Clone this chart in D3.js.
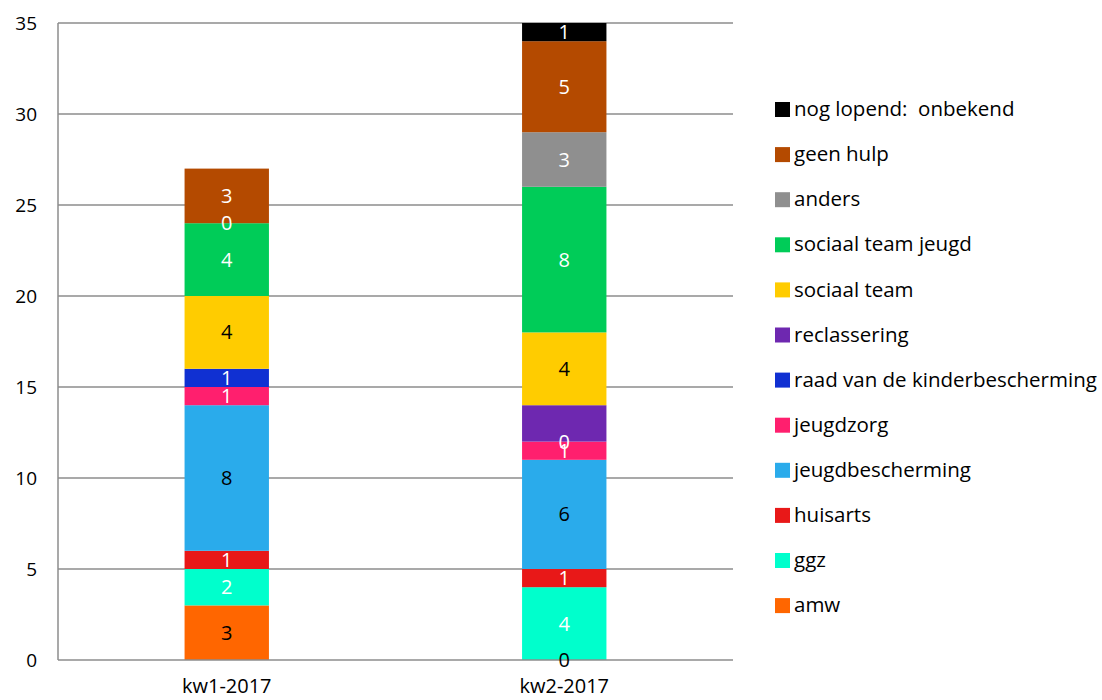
<!DOCTYPE html>
<html>
<head>
<meta charset="utf-8">
<script src="https://cdn.jsdelivr.net/npm/d3@7"></script>
<style>
  body { margin: 0; background: #fff; }
  text { font-family: "Open Sans", "Noto Sans", sans-serif; fill: #000; }
</style>
</head>
<body>
<div class="chart"></div>
<script>
// categories + series (bottom to top of the stack)
const categories = ["kw1-2017", "kw2-2017"];
const seriesNames = ["amw", "ggz", "huisarts", "jeugdbescherming", "jeugdzorg",
  "raad van de kinderbescherming", "reclassering", "sociaal team",
  "sociaal team jeugd", "anders", "geen hulp", "nog lopend:  onbekend"];
const seriesColors = ["#ff6600", "#00ffcc", "#e81818", "#2aabeb", "#ff1f6e",
  "#1030d2", "#6e28b0", "#ffcc00", "#00cc58", "#8f8f8f", "#b44a00", "#000000"];
// values per series: [kw1, kw2]  (null = no value)
const amw = [3, 0];
const ggz = [2, 4];
const huisarts = [1, 1];
const jeugdbescherming = [8, 6];
const jeugdzorg = [1, 1];
const raad = [1, 0];
const reclassering = [null, 2];
const sociaalTeam = [4, 4];
const sociaalTeamJeugd = [4, 8];
const anders = [0, 3];
const geenHulp = [3, 5];
const nogLopend = [null, 1];
const values = [amw, ggz, huisarts, jeugdbescherming, jeugdzorg, raad,
  reclassering, sociaalTeam, sociaalTeamJeugd, anders, geenHulp, nogLopend];
// label text colour per series, and labels missing in the original
const darkLabels = ["amw", "jeugdbescherming", "sociaal team"];
const hiddenLabels = [["reclassering", "kw2-2017"]];
const yTicks = [0, 5, 10, 15, 20, 25, 30, 35];

var margin = { top: 23, right: 369, bottom: 40, left: 58 };
var width = 1102 - margin.left - margin.right,
  height = 700 - margin.top - margin.bottom;

const svg = d3.select(".chart").append("svg")
  .attr("width", 1102)
  .attr("height", 700)
  .append("g")
  .attr("transform", "translate(" + margin.left + "," + margin.top + ")");

const x = d3.scaleBand().domain(categories).range([0, width]);
const y = d3.scaleLinear().domain([0, 35]).range([height, 0]);
const barW = x.bandwidth() * 0.25;

// gridlines
svg.append("g").selectAll("line").data(yTicks.slice(1)).enter().append("line")
  .attr("x1", 0).attr("x2", width)
  .attr("y1", d => y(d)).attr("y2", d => y(d))
  .attr("stroke", "#8c8c8c").attr("stroke-width", 1.5);

// y tick labels
svg.append("g").selectAll("text").data(yTicks).enter().append("text")
  .attr("x", -21).attr("y", d => y(d)).attr("dy", "0.35em")
  .attr("text-anchor", "end").style("font-size", "19px")
  .text(d => d);

// stacking
const table = categories.map(function (c, i) {
  const row = { cat: c };
  seriesNames.forEach((s, j) => { row[s] = values[j][i] == null ? 0 : values[j][i]; });
  return row;
});
const stacked = d3.stack().keys(seriesNames)(table);

const layer = svg.append("g").selectAll("g").data(stacked).enter().append("g")
  .attr("fill", (d, i) => seriesColors[i]);

layer.selectAll("rect").data(d => d).enter().append("rect")
  .attr("x", d => x(d.data.cat) + x.bandwidth() / 2 - barW / 2)
  .attr("width", barW)
  .attr("y", d => y(d[1]))
  .attr("height", d => y(d[0]) - y(d[1]));

// axes lines
svg.append("line").attr("x1", 0).attr("x2", 0).attr("y1", 0).attr("y2", height)
  .attr("stroke", "#8c8c8c").attr("stroke-width", 1.5);
svg.append("line").attr("x1", 0).attr("x2", width).attr("y1", height).attr("y2", height)
  .attr("stroke", "#8c8c8c").attr("stroke-width", 1.5);

// data labels
stacked.forEach(function (s, j) {
  s.forEach(function (d, i) {
    const v = values[j][i];
    if (v == null) return;
    if (hiddenLabels.some(h => h[0] === s.key && h[1] === d.data.cat)) return;
    svg.append("text")
      .attr("x", x(d.data.cat) + x.bandwidth() / 2)
      .attr("y", y((d[0] + d[1]) / 2))
      .attr("dy", "0.35em")
      .attr("text-anchor", "middle")
      .style("font-size", "20px")
      .style("fill", darkLabels.indexOf(s.key) >= 0 || (v === 0 && j === 0) ? "#000" : "#fff")
      .text(v);
  });
});

// category labels
svg.append("g").selectAll("text").data(categories).enter().append("text")
  .attr("x", d => x(d) + x.bandwidth() / 2)
  .attr("y", height + 33)
  .attr("text-anchor", "middle").style("font-size", "20px")
  .text(d => d);

// legend (top = last series)
const legend = svg.append("g").attr("transform", "translate(" + (width + 42) + ",86)")
  .selectAll("g").data(seriesNames.slice().reverse()).enter().append("g")
  .attr("transform", (d, i) => "translate(0," + i * 45.1 + ")");
legend.append("rect").attr("x", 0).attr("y", -7).attr("width", 15).attr("height", 15)
  .attr("fill", d => seriesColors[seriesNames.indexOf(d)]);
legend.append("text").attr("x", 19).attr("dy", "0.35em")
  .style("font-size", "20.5px").style("white-space", "pre")
  .text(d => d);
</script>
</body>
</html>
